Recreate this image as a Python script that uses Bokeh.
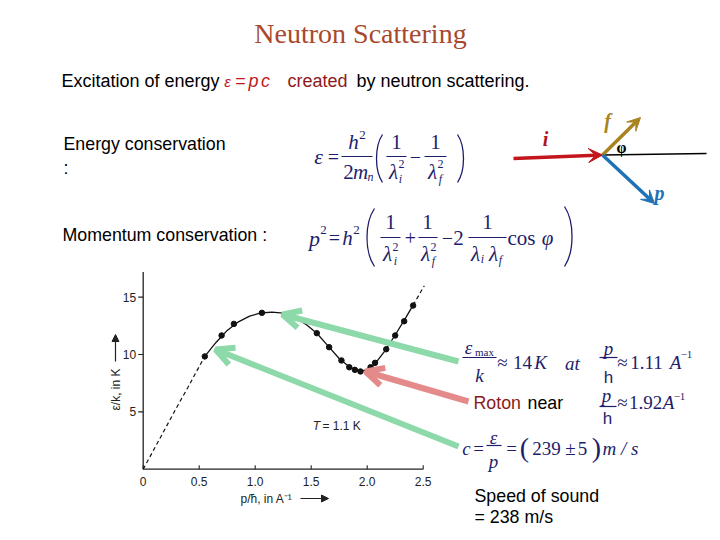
import math
from bokeh.plotting import figure
from bokeh.models import Range1d, Label, Arrow, OpenHead, VeeHead, NormalHead
from bokeh.core.properties import value
from bokeh.embed import file_html
from bokeh.resources import INLINE

# ---------------- data ----------------
momentum_points = [0.55, 0.70, 0.81, 1.06, 1.30, 1.55, 1.66, 1.77, 1.84, 1.89, 1.94, 2.03, 2.07, 2.17, 2.25, 2.33, 2.41]
energy_points = [9.83, 11.66, 12.67, 13.63, 13.46, 11.86, 10.64, 9.48, 8.89, 8.66, 8.52, 8.89, 9.27, 10.46, 11.66, 12.9, 14.27]

momentum_curve = [0.55, 0.65, 0.75, 0.85, 0.95, 1.05, 1.15, 1.25, 1.35, 1.45, 1.55, 1.65, 1.75, 1.85, 1.93, 2.00, 2.07, 2.15, 2.25, 2.35, 2.41]
energy_curve = [9.83, 11.05, 12.1, 12.85, 13.35, 13.62, 13.7, 13.6, 13.25, 12.65, 11.85, 10.75, 9.65, 8.85, 8.55, 8.65, 9.2, 10.2, 11.7, 13.3, 14.3]

momentum_phonon = [0.0, 0.1, 0.2, 0.3, 0.4, 0.5, 0.55]
energy_phonon = [0.0, 1.8, 3.6, 5.4, 7.15, 8.95, 9.83]

momentum_tail = [2.41, 2.46, 2.51]
energy_tail = [14.3, 15.15, 16.0]

x_ticks = [0, 0.5, 1.0, 1.5, 2.0, 2.5]
x_tick_labels = ["0", "0.5", "1.0", "1.5", "2.0", "2.5"]
y_ticks = [5, 10, 15]
y_tick_labels = ["5", "10", "15"]

# ---------------- layout ----------------
W, H = 720, 540
X0, XS = 142.7, 112.0     # chart origin (px) and px per unit on x
Y0, YS = 468.7, 11.47     # chart origin (px) and px per unit on y

NAVY = "#1d1d6b"
DARKRED = "#8c1a1a"
RED = "#c0181e"
GREEN = "#8ed9a9"
PINK = "#e48a8a"
SERIF = "Liberation Serif"
SANS = "Liberation Sans"

p = figure(width=W, height=H, x_range=Range1d(0, W), y_range=Range1d(H, 0),
           output_backend="svg", toolbar_location=None, min_border=0,
           x_axis_location=None, y_axis_location=None,
           outline_line_color=None, background_fill_color="white",
           border_fill_color="white")
p.grid.visible = False
p.extra_x_ranges = {"cx": Range1d(-X0 / XS, (W - X0) / XS)}
p.extra_y_ranges = {"cy": Range1d((Y0 - H) / YS, Y0 / YS)}


def txt(x, y, s, size, color="black", font=SANS, style="normal",
        align="center", baseline="middle", angle=0.0):
    p.add_layout(Label(x=x, y=y, text=s, text_font=font,
                       text_font_size=f"{size}px", text_color=color,
                       text_font_style=style, text_align=align,
                       text_baseline=baseline, angle=angle))


def bar(x0, x1, y, color=NAVY, w=1.2):
    p.segment(x0=[x0], y0=[y], x1=[x1], y1=[y], line_color=color, line_width=w)


def paren(x, top, bottom, bulge, color=NAVY, w=1.3):
    h = bottom - top
    p.bezier(x0=[x], y0=[top], x1=[x], y1=[bottom],
             cx0=[x + bulge], cy0=[top + 0.25 * h], cx1=[x + bulge], cy1=[bottom - 0.25 * h],
             line_color=color, line_width=w)


# ---------------- title and text lines ----------------
txt(360, 33, "Neutron Scattering", 28, color="#a8482c", font=SERIF)

TS = 17.8
txt(61, 80, "Excitation of energy", 18, align="left")
txt(227, 81, "ε", 15, color=RED, style="italic")
txt(240, 80, "=", 18, color=RED)
txt(253, 80, "p", 18, color=RED, style="italic")
txt(265, 80, "c", 18, color=RED, style="italic")
txt(287, 80, "created", 18, color=DARKRED, align="left")
txt(356, 80, "by neutron scattering.", 18, align="left")

txt(63, 143, "Energy conservation", TS, align="left")
txt(63, 167, ":", TS, align="left")
txt(62, 234, "Momentum conservation :", TS, align="left")

# ---------------- formula 1 ----------------
F = 21
txt(318, 156, "ε", 22, NAVY, SERIF, "italic")
txt(333, 156, "=", 20, NAVY, SERIF)
txt(353, 141, "h", F, NAVY, SERIF, "italic")
txt(362, 134, "2", 13, NAVY, SERIF)
bar(341, 372, 156)
txt(348, 171, "2", F, NAVY, SERIF)
txt(360, 171, "m", F, NAVY, SERIF, "italic")
txt(370, 176, "n", 12, NAVY, SERIF, "italic")
paren(382, 134, 182, -8)
txt(396, 141, "1", F, NAVY, SERIF)
bar(386, 406, 156)
txt(393, 171, "λ", F, NAVY, SERIF, "italic")
txt(401, 163, "2", 12, NAVY, SERIF)
txt(400, 178, "i", 12, NAVY, SERIF, "italic")
txt(415, 156, "−", 20, NAVY, SERIF)
txt(435, 141, "1", F, NAVY, SERIF)
bar(424, 446, 156)
txt(432, 171, "λ", F, NAVY, SERIF, "italic")
txt(440, 163, "2", 12, NAVY, SERIF)
txt(440, 178, "f", 12, NAVY, SERIF, "italic")
paren(457, 134, 182, 8)

# ---------------- formula 2 ----------------
A = 237
txt(314, A + 1, "p", 22, NAVY, SERIF, "italic")
txt(323, A - 8, "2", 13, NAVY, SERIF)
txt(334, A, "=", 20, NAVY, SERIF)
txt(347, A, "h", F, NAVY, SERIF, "italic")
txt(356, A - 8, "2", 13, NAVY, SERIF)
paren(374, 208, 266, -10)
txt(390, 221, "1", F, NAVY, SERIF)
bar(380, 400, A)
txt(387, 253, "λ", F, NAVY, SERIF, "italic")
txt(395, 246, "2", 12, NAVY, SERIF)
txt(395, 260, "i", 12, NAVY, SERIF, "italic")
txt(410, A, "+", 20, NAVY, SERIF)
txt(427, 221, "1", F, NAVY, SERIF)
bar(418, 437, A)
txt(425, 253, "λ", F, NAVY, SERIF, "italic")
txt(433, 246, "2", 12, NAVY, SERIF)
txt(433, 260, "f", 12, NAVY, SERIF, "italic")
txt(447, A, "−", 20, NAVY, SERIF)
txt(458, A, "2", F, NAVY, SERIF)
txt(487, 221, "1", F, NAVY, SERIF)
bar(468, 506, A)
txt(475, 253, "λ", F, NAVY, SERIF, "italic")
txt(482, 258, "i", 12, NAVY, SERIF, "italic")
txt(493, 253, "λ", F, NAVY, SERIF, "italic")
txt(500, 259, "f", 12, NAVY, SERIF, "italic")
txt(521, A, "cos", F, NAVY, SERIF)
txt(547, A, "φ", F, NAVY, SERIF, "italic")
paren(564, 206, 266, 10)

# ---------------- scattering diagram ----------------
VX, VY = 602, 154.5
p.segment(x0=[VX], y0=[VY], x1=[706], y1=[153], line_color="black", line_width=1.6)
p.add_layout(Arrow(end=VeeHead(size=14, fill_color="#c3161c", line_color="#c3161c"),
                   x_start=513, y_start=158, x_end=VX, y_end=VY,
                   line_color="#c3161c", line_width=3.5))
p.add_layout(Arrow(end=VeeHead(size=13, fill_color="#a88420", line_color="#a88420"),
                   x_start=VX, y_start=VY, x_end=640, y_end=117,
                   line_color="#a88420", line_width=3.5))
p.add_layout(Arrow(end=VeeHead(size=13, fill_color="#1f72b5", line_color="#1f72b5"),
                   x_start=VX, y_start=VY, x_end=654, y_end=203,
                   line_color="#1f72b5", line_width=3.5))
txt(545, 138, "i", 20, "#b0141c", SERIF, "bold italic")
txt(607, 120, "f", 20, "#a88420", SERIF, "bold italic")
txt(621, 147, "φ", 16, "black", SERIF, "bold")
txt(659, 192, "p", 20, "#1f72b5", SERIF, "bold italic")

# ---------------- chart ----------------
cr = dict(x_range_name="cx", y_range_name="cy")
AX = "#222222"
p.segment(x0=[0, 0], y0=[0, 0], x1=[0, 2.5], y1=[17.2, 0], line_color=AX, line_width=1.3, **cr)
p.segment(x0=x_ticks, y0=[0] * len(x_ticks), x1=x_ticks, y1=[4 / YS] * len(x_ticks),
          line_color=AX, line_width=1.1, **cr)
p.segment(x0=[0] * len(y_ticks), y0=y_ticks, x1=[-5 / XS] * len(y_ticks), y1=y_ticks,
          line_color=AX, line_width=1.1, **cr)
p.text(x=x_ticks, y=[0] * len(x_ticks), text=x_tick_labels, y_offset=12,
       text_align="center", text_baseline="middle", text_font=value(SANS),
       text_font_size="12px", text_color=AX, **cr)
p.text(x=[0] * len(y_ticks), y=y_ticks, text=y_tick_labels, x_offset=-7,
       text_align="right", text_baseline="middle", text_font=value(SANS),
       text_font_size="12px", text_color=AX, **cr)

p.line(momentum_phonon, energy_phonon, line_color="#111111", line_width=1.2, line_dash="4 3", **cr)
p.line(momentum_tail, energy_tail, line_color="#111111", line_width=1.2, line_dash="4 3", **cr)
p.line(momentum_curve, energy_curve, line_color="#111111", line_width=1.3, **cr)
p.scatter(momentum_points, energy_points, size=5.5, color="#111111", **cr)

txt(316, 425, "T", 12, AX, SANS, "italic")
txt(322, 425, "= 1.1 K", 12, AX, SANS, align="left")
txt(115, 389, "ε/k, in K", 12, AX, SANS, angle=math.pi / 2)
p.add_layout(Arrow(end=NormalHead(size=7, fill_color=AX, line_color=AX),
                   x_start=115, y_start=361, x_end=115, y_end=334,
                   line_color=AX, line_width=1.2))
txt(266, 498, "p/ħ, in A⁻¹", 12, AX, SANS)
p.add_layout(Arrow(end=NormalHead(size=7, fill_color=AX, line_color=AX),
                   x_start=300, y_start=498, x_end=328, y_end=498,
                   line_color=AX, line_width=1.2))

# ---------------- pointer arrows ----------------
for (xs, ys, xe, ye, col) in [(458, 361, 282, 314, GREEN),
                              (458, 446, 215, 349, GREEN),
                              (468, 401, 365, 371, PINK)]:
    p.add_layout(Arrow(end=OpenHead(size=18, line_width=6, line_color=col),
                       x_start=xs, y_start=ys, x_end=xe, y_end=ye,
                       line_color=col, line_width=6))

# ---------------- right-hand annotations ----------------
R = 19
txt(468, 347, "ε", R, NAVY, SERIF, "italic")
txt(484, 351, "max", 11, NAVY, SERIF)
bar(462, 496, 357)
txt(479, 375, "k", R, NAVY, SERIF, "italic")
txt(502, 362, "≈", R, NAVY, SERIF)
txt(522, 362, "14", R, NAVY, SERIF)
txt(540, 362, "K", R, NAVY, SERIF, "italic")
txt(572, 363, "at", R, NAVY, SERIF, "italic")
txt(608, 348, "p", R, NAVY, SERIF, "italic")
bar(599, 617, 357)
txt(608, 377, "h", 17, NAVY, SANS)
txt(622, 362, "≈", R, NAVY, SERIF)
txt(646, 362, "1.11", R, NAVY, SERIF)
txt(675, 362, "A", R, NAVY, SERIF, "italic")
txt(686, 354, "−1", 11, NAVY, SERIF)

txt(473, 402, "Roton", TS, DARKRED, SANS, align="left")
txt(527, 402, "near", TS, "black", SANS, align="left")
txt(606, 395, "p", R, NAVY, SERIF, "italic")
bar(599, 616, 406)
txt(607, 418, "h", 17, NAVY, SANS)
txt(622, 402, "≈", R, NAVY, SERIF)
txt(645, 402, "1.92", R, NAVY, SERIF)
txt(668, 402, "A", R, NAVY, SERIF, "italic")
txt(679, 396, "−1", 11, NAVY, SERIF)

txt(466, 448, "c", R, NAVY, SERIF, "italic")
txt(478, 448, "=", R, NAVY, SERIF)
txt(493, 437, "ε", R, NAVY, SERIF, "italic")
bar(486, 501, 445)
txt(493, 461, "p", R, NAVY, SERIF, "italic")
txt(511, 448, "=", R, NAVY, SERIF)
txt(524, 447, "(", 28, NAVY, SERIF)
txt(546, 448, "239", R, NAVY, SERIF)
txt(570, 448, "±", R, NAVY, SERIF)
txt(582, 448, "5", R, NAVY, SERIF)
txt(596, 447, ")", 28, NAVY, SERIF)
txt(620, 448, "m / s", R, NAVY, SERIF, "italic")

txt(474, 495, "Speed of sound", TS, align="left")
txt(474, 516, "= 238 m/s", TS, align="left")

open("out.html", "w").write(file_html(p, INLINE))
